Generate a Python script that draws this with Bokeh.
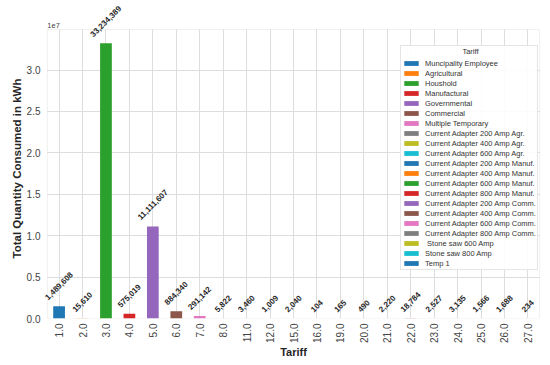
import math
from bokeh.plotting import figure
from bokeh.models import (ColumnDataSource, FactorRange, Range1d, Legend, LegendItem,
                          Label, CustomJSTickFormatter, FixedTicker, BoxAnnotation, Title)
from bokeh.palettes import Category10
from bokeh.core.properties import value
from bokeh.embed import file_html
from bokeh.resources import INLINE

# ---- data ----
tariffs = ["1.0", "2.0", "3.0", "4.0", "5.0", "6.0", "7.0", "8.0", "11.0", "12.0", "15.0",
           "16.0", "19.0", "20.0", "21.0", "22.0", "23.0", "24.0", "25.0", "26.0", "27.0"]
names = ["Muncipality Employee", "Agricultural", "Houshold", "Manufactural", "Governmental",
         "Commercial", "Multiple Temporary", "Current Adapter 200 Amp Agr.",
         "Current Adapter 400 Amp Agr.", "Current Adapter 600 Amp Agr.",
         "Current Adapter 200 Amp Manuf.", "Current Adapter 400 Amp Manuf.",
         "Current Adapter 600 Amp Manuf.", "Current Adapter 800 Amp Manuf.",
         "Current Adapter 200 Amp Comm.", "Current Adapter 400 Amp Comm.",
         "Current Adapter 600 Amp Comm.", "Current Adapter 800 Amp Comm.",
         " Stone saw 600 Amp", "Stone saw 800 Amp", "Temp 1"]
consumption = [1489608, 15610, 33234389, 575019, 11111607, 884340, 291142, 5822, 3460, 1009,
               2040, 104, 165, 490, 2220, 18784, 2527, 3135, 1566, 1688, 234]
y_ticks = [0, 5e6, 1e7, 1.5e7, 2e7, 2.5e7, 3e7]

# ---- derived ----
palette = Category10[10]
colors = [palette[i % 10] for i in range(len(tariffs))]
labels = [f"{v:,}" for v in consumption]

FS = 8.0
def text_w(s):
    return sum((0.278 if c in ",." else 0.556) * FS for c in s)
offsets = [-(5.5 + (text_w(s) + 0.72 * FS) * 0.7071 / 2) for s in labels]

src = ColumnDataSource(dict(x=tariffs, top=consumption, color=colors, name=names,
                            label=labels, yoff=offsets))

FONT = "Liberation Sans"
# layout (screen px): visible axes box x=47..539, y=29..318.
# The plotting frame is a little larger (x=41..545, y=4..318) so the rotated
# value labels are not clipped; the extra strips are painted white.
FRAME_TOP, AXES_TOP, FRAME_BOTTOM = 4, 29, 318
PAD = 0.25  # categories of extra frame on each side (~5.9 px)
n = len(tariffs)
ymax = max(consumption) * 1.05
y_end = ymax * (FRAME_BOTTOM - FRAME_TOP) / (FRAME_BOTTOM - AXES_TOP)

p = figure(width=550, height=365,
           x_range=FactorRange(*tariffs, range_padding=PAD, range_padding_units="absolute"),
           y_range=Range1d(0, y_end),
           output_backend="svg", toolbar_location=None,
           min_border_left=41, min_border_right=5, min_border_top=FRAME_TOP,
           min_border_bottom=365 - FRAME_BOTTOM)

p.background_fill_color = "white"
p.outline_line_color = None
p.grid.grid_line_color = "#dddddd"
p.grid.grid_line_width = 1

# white covers outside the axes box, then the axes box border
for kw in (dict(bottom=ymax), dict(right=0), dict(left=n)):
    p.add_layout(BoxAnnotation(fill_color="white", fill_alpha=1.0, line_alpha=0,
                               level="underlay", **kw))
p.add_layout(BoxAnnotation(bottom=0, top=ymax, left=0, right=n, fill_alpha=0,
                           line_color="#cccccc", line_width=1, level="underlay"))

r = p.vbar(x="x", top="top", width=0.5, source=src, fill_color="color", line_color=None)

p.text(x="x", y="top", text="label", source=src, angle=math.pi / 4, text_align="center",
       text_baseline="middle", y_offset="yoff", text_font_size=f"{FS}px",
       text_font_style="bold", text_color="#262626", text_font=value(FONT))

for ax in (p.xaxis[0], p.yaxis[0]):
    ax.axis_line_color = None
    ax.major_tick_line_color = None
    ax.minor_tick_line_color = None
    ax.major_tick_out = 0
    ax.major_tick_in = 0
    ax.major_label_text_font = FONT
    ax.major_label_text_font_size = "10px"
    ax.major_label_text_color = "#444444"
    ax.axis_label_text_font = FONT
    ax.axis_label_text_font_style = "bold"
    ax.axis_label_text_color = "#262626"

p.xaxis.axis_label = "Tariff"
p.xaxis.axis_label_text_font_size = "11px"
p.xaxis.major_label_orientation = math.pi / 2
p.xaxis.major_label_standoff = 5
p.xaxis.axis_label_standoff = 0

p.yaxis.ticker = FixedTicker(ticks=y_ticks)
p.yaxis.formatter = CustomJSTickFormatter(code="return (tick/1e7).toFixed(1);")
p.yaxis.major_label_standoff = 1

p.add_layout(Title(text="Total Quantity Consumed in kWh", align="left", offset=60,
                   vertical_align="middle", standoff=0, text_font_size="11.5px",
                   text_font_style="bold", text_font=FONT, text_color="#262626"), "left")

p.add_layout(Label(x=0, y=ymax, x_units="data", y_units="data", y_offset=2,
                   text_baseline="bottom", text="1e7",
                   text_font_size="7.5px", text_font=FONT, text_color="#444444"))

items = [LegendItem(label=nm, renderers=[r], index=i) for i, nm in enumerate(names)]
legend = Legend(items=items, location=(359, 48), title="\u00a0" * 29 + "Tariff",
                title_text_font_size="7.5px", title_text_font_style="normal",
                title_text_font=FONT, title_text_color="#333333", title_standoff=2,
                label_text_font_size="7.5px", label_text_font=FONT, label_text_color="#333333",
                label_height=10, glyph_height=6, glyph_width=18, spacing=0, padding=1,
                label_standoff=5, margin=0, border_line_color="#cccccc",
                background_fill_alpha=0.9)
p.add_layout(legend)

open("out.html", "w").write(file_html(p, INLINE))
